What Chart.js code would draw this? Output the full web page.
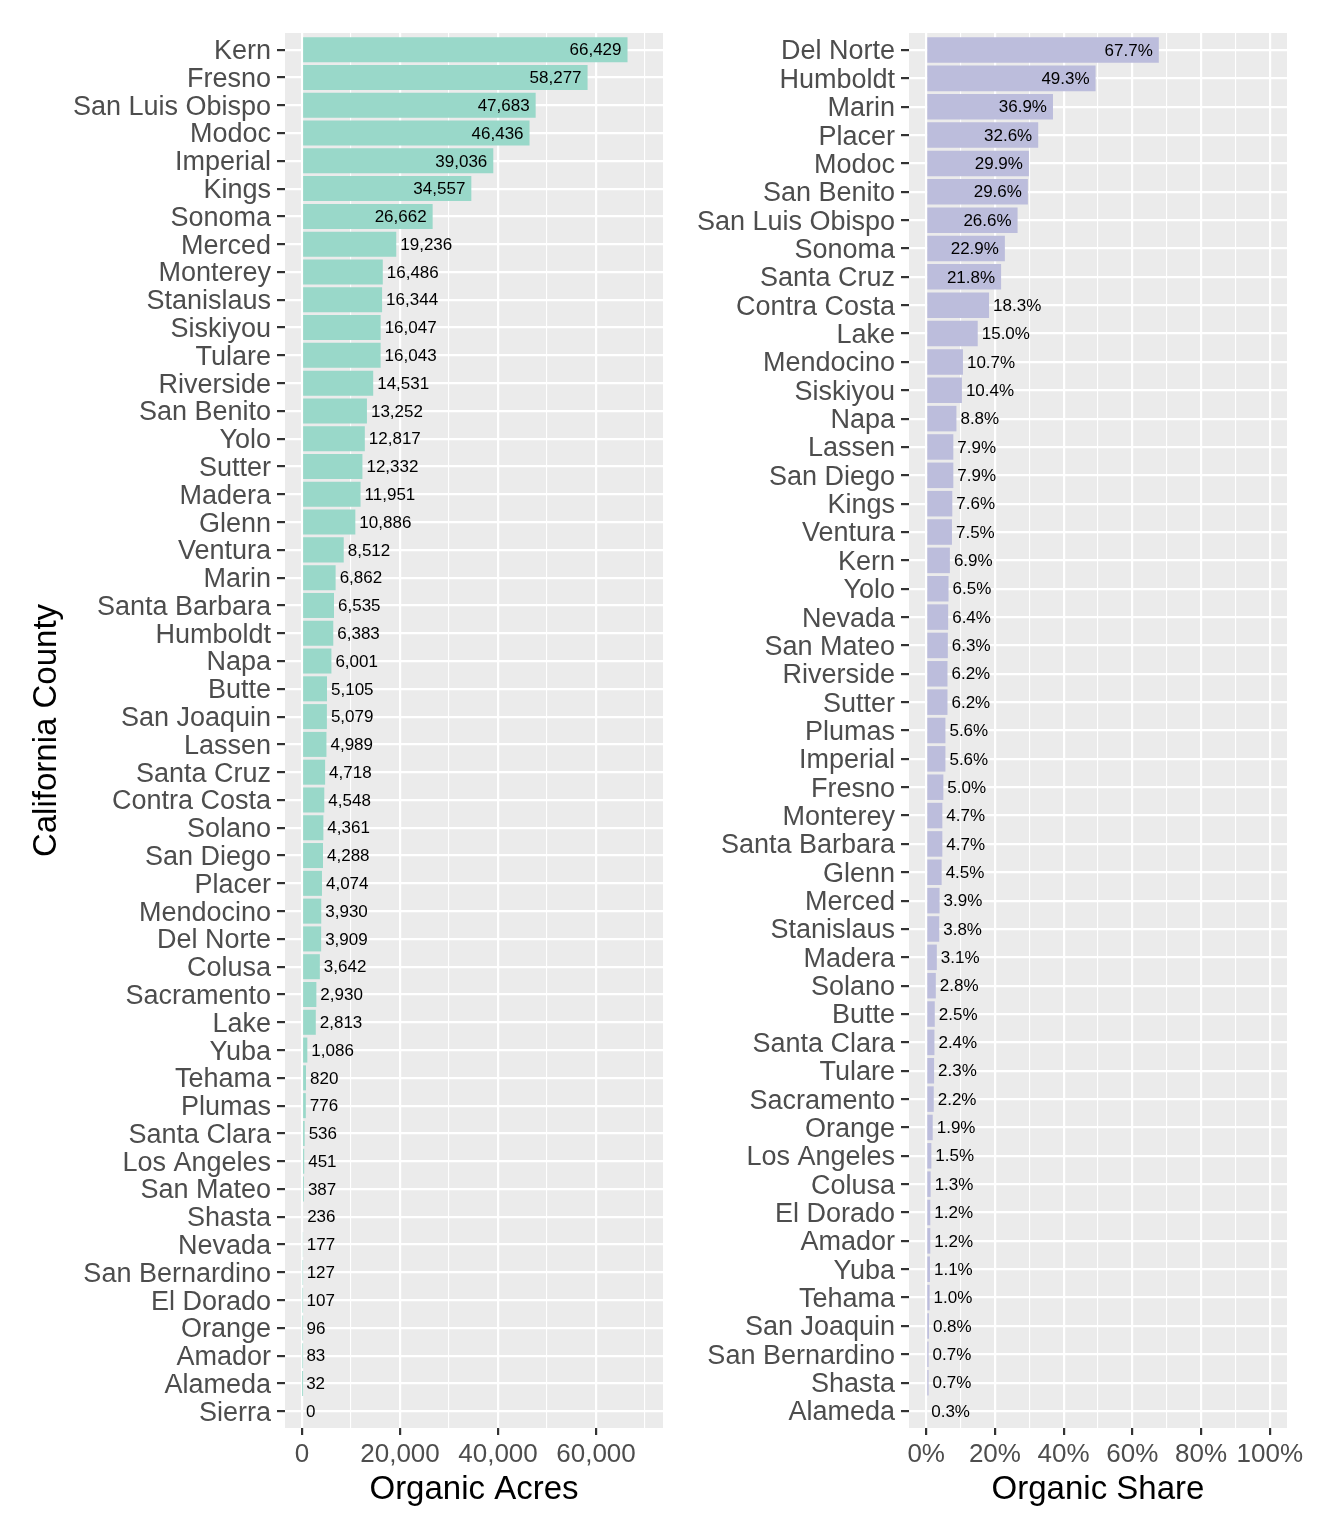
<!DOCTYPE html>
<html>
<head>
<meta charset="utf-8">
<script src="https://cdn.jsdelivr.net/npm/chart.js@4.4.1/dist/chart.umd.min.js"></script>
<style>
  body { margin: 0; background: #ffffff; }
  #wrap { position: relative; width: 1320px; height: 1540px; }
  #acresChart { position: absolute; left: 0; top: 0; }
  #shareChart { position: absolute; left: 680px; top: 0; }
</style>
</head>
<body>
<div id="wrap">
  <canvas id="acresChart" width="680" height="1540"></canvas>
  <canvas id="shareChart" width="640" height="1540"></canvas>
</div>
<script>
// left panel: organic acres by county
var acresCounties = ["Kern", "Fresno", "San Luis Obispo", "Modoc", "Imperial", "Kings", "Sonoma", "Merced",
  "Monterey", "Stanislaus", "Siskiyou", "Tulare", "Riverside", "San Benito", "Yolo", "Sutter", "Madera",
  "Glenn", "Ventura", "Marin", "Santa Barbara", "Humboldt", "Napa", "Butte", "San Joaquin", "Lassen",
  "Santa Cruz", "Contra Costa", "Solano", "San Diego", "Placer", "Mendocino", "Del Norte", "Colusa",
  "Sacramento", "Lake", "Yuba", "Tehama", "Plumas", "Santa Clara", "Los Angeles", "San Mateo", "Shasta",
  "Nevada", "San Bernardino", "El Dorado", "Orange", "Amador", "Alameda", "Sierra"];
var acres = [66429, 58277, 47683, 46436, 39036, 34557, 26662, 19236, 16486, 16344, 16047, 16043, 14531,
  13252, 12817, 12332, 11951, 10886, 8512, 6862, 6535, 6383, 6001, 5105, 5079, 4989, 4718, 4548, 4361,
  4288, 4074, 3930, 3909, 3642, 2930, 2813, 1086, 820, 776, 536, 451, 387, 236, 177, 127, 107, 96, 83, 32, 0];
var acresTicks = [0, 10000, 20000, 30000, 40000, 50000, 60000, 70000];

// right panel: organic share (percent) by county
var shareCounties = ["Del Norte", "Humboldt", "Marin", "Placer", "Modoc", "San Benito", "San Luis Obispo",
  "Sonoma", "Santa Cruz", "Contra Costa", "Lake", "Mendocino", "Siskiyou", "Napa", "Lassen", "San Diego",
  "Kings", "Ventura", "Kern", "Yolo", "Nevada", "San Mateo", "Riverside", "Sutter", "Plumas", "Imperial",
  "Fresno", "Monterey", "Santa Barbara", "Glenn", "Merced", "Stanislaus", "Madera", "Solano", "Butte",
  "Santa Clara", "Tulare", "Sacramento", "Orange", "Los Angeles", "Colusa", "El Dorado", "Amador", "Yuba",
  "Tehama", "San Joaquin", "San Bernardino", "Shasta", "Alameda"];
var sharePct = [67.7, 49.3, 36.9, 32.6, 29.9, 29.6, 26.6, 22.9, 21.8, 18.3, 15.0, 10.7, 10.4, 8.8, 7.9, 7.9,
  7.6, 7.5, 6.9, 6.5, 6.4, 6.3, 6.2, 6.2, 5.6, 5.6, 5.0, 4.7, 4.7, 4.5, 3.9, 3.8, 3.1, 2.8, 2.5, 2.4, 2.3,
  2.2, 1.9, 1.5, 1.3, 1.2, 1.2, 1.1, 1.0, 0.8, 0.7, 0.7, 0.3];
var shareTicks = [0, 10, 20, 30, 40, 50, 60, 70, 80, 90, 100];

var FONT = "'Liberation Sans', Arial, Helvetica, sans-serif";

// label formatters per canvas (kept out of chart options so Chart.js does not resolve them)
var valueFormats = {
  acresChart: function (v) { return v.toLocaleString("en-US"); },
  shareChart: function (v) { return v.toFixed(1) + "%"; },
};

// grey panel behind the bars
var panelBg = {
  id: "panelBg",
  beforeDraw: function (chart) {
    var a = chart.chartArea;
    var ctx = chart.ctx;
    ctx.save();
    ctx.fillStyle = "#ebebeb";
    ctx.fillRect(a.left, a.top, a.right - a.left, a.bottom - a.top);
    ctx.restore();
  },
};

// value text at the end of each bar: inside for long bars, outside for short ones
var barLabels = {
  id: "barLabels",
  afterDatasetsDraw: function (chart) {
    var ctx = chart.ctx;
    var raw = chart.data.datasets[0].data;
    var meta = chart.getDatasetMeta(0);
    var fmt = valueFormats[chart.canvas.id];
    var maxVal = 0;
    raw.forEach(function (d) { if (d.x > maxVal) maxVal = d.x; });
    ctx.save();
    ctx.font = "17px " + FONT;
    ctx.fillStyle = "#000000";
    ctx.textBaseline = "middle";
    meta.data.forEach(function (bar, i) {
      var v = raw[i].x;
      var txt = fmt(v);
      if (v > maxVal * 0.3) {
        ctx.textAlign = "right";
        ctx.fillText(txt, bar.x - 6, bar.y + 1);
      } else {
        ctx.textAlign = "left";
        ctx.fillText(txt, bar.x + 4, bar.y + 1);
      }
    });
    ctx.restore();
  },
};

function makeChart(id, names, values, color, ticks, majorStep, xMin, xMax, yWidth, padRight, yTitle, xTitle, tickFmt) {
  var ctx = document.getElementById(id).getContext("2d");
  // one bar per county, placed at its row index on a linear y scale
  var points = values.map(function (v, i) { return { x: v, y: i }; });
  var rows = names.map(function (n, i) { return i; });
  return new Chart(ctx, {
    type: "bar",
    data: {
      datasets: [
        {
          data: points,
          backgroundColor: color,
          borderWidth: 0,
          barPercentage: 0.9,
          categoryPercentage: 1.0,
        },
      ],
    },
    plugins: [panelBg, barLabels],
    options: {
      indexAxis: "y",
      responsive: false,
      animation: false,
      layout: { padding: { top: 33, bottom: 0, left: 0, right: padRight } },
      plugins: { legend: { display: false }, tooltip: { enabled: false } },
      scales: {
        x: {
          type: "linear",
          min: xMin,
          max: xMax,
          afterBuildTicks: function (scale) {
            scale.ticks = ticks.map(function (v) { return { value: v }; });
          },
          afterFit: function (scale) {
            scale.height = 112;
            scale.paddingLeft = 0;
            scale.paddingRight = 0;
          },
          border: { display: false },
          grid: {
            color: "#ffffff",
            lineWidth: function (c) {
              return c.tick && c.tick.value % majorStep === 0 ? 2.2 : 1.1;
            },
            tickColor: function (c) {
              return c.tick && c.tick.value % majorStep === 0 ? "#333333" : "rgba(0,0,0,0)";
            },
            tickWidth: 2.2,
            tickLength: 7,
          },
          ticks: {
            autoSkip: false,
            maxRotation: 0,
            padding: 4,
            color: "#4d4d4d",
            font: { family: FONT, size: 26 },
            callback: function (v) {
              return v % majorStep === 0 ? tickFmt(v) : "";
            },
          },
          title: {
            display: true,
            text: xTitle,
            color: "#000000",
            font: { family: FONT, size: 33 },
            padding: { top: 0, bottom: 30 },
          },
        },
        y: {
          type: "linear",
          reverse: true,
          offset: false,
          min: -0.6,
          max: names.length - 0.4,
          afterBuildTicks: function (scale) {
            scale.ticks = rows.map(function (v) { return { value: v }; });
          },
          afterFit: function (scale) {
            scale.width = yWidth;
            scale.paddingTop = 0;
            scale.paddingBottom = 0;
          },
          border: { display: false },
          grid: {
            offset: false,
            color: "#ffffff",
            lineWidth: 2.2,
            tickColor: "#333333",
            tickWidth: 2.2,
            tickLength: 8,
          },
          ticks: {
            autoSkip: false,
            padding: 6,
            labelOffset: 2,
            color: "#4d4d4d",
            font: { family: FONT, size: 27 },
            callback: function (v) {
              return names[v];
            },
          },
          title: {
            display: yTitle !== "",
            text: yTitle,
            color: "#000000",
            font: { family: FONT, size: 33 },
            padding: { top: 27, bottom: 0 },
          },
        },
      },
    },
  });
}

makeChart("acresChart", acresCounties, acres, "#99d8c9", acresTicks, 20000, -3470, 73670, 285, 17,
  "California County", "Organic Acres",
  function (v) { return v.toLocaleString("en-US"); });

makeChart("shareChart", shareCounties, sharePct, "#bcbddc", shareTicks, 20, -5, 105, 229, 33,
  "", "Organic Share",
  function (v) { return v + "%"; });
</script>
</body>
</html>
